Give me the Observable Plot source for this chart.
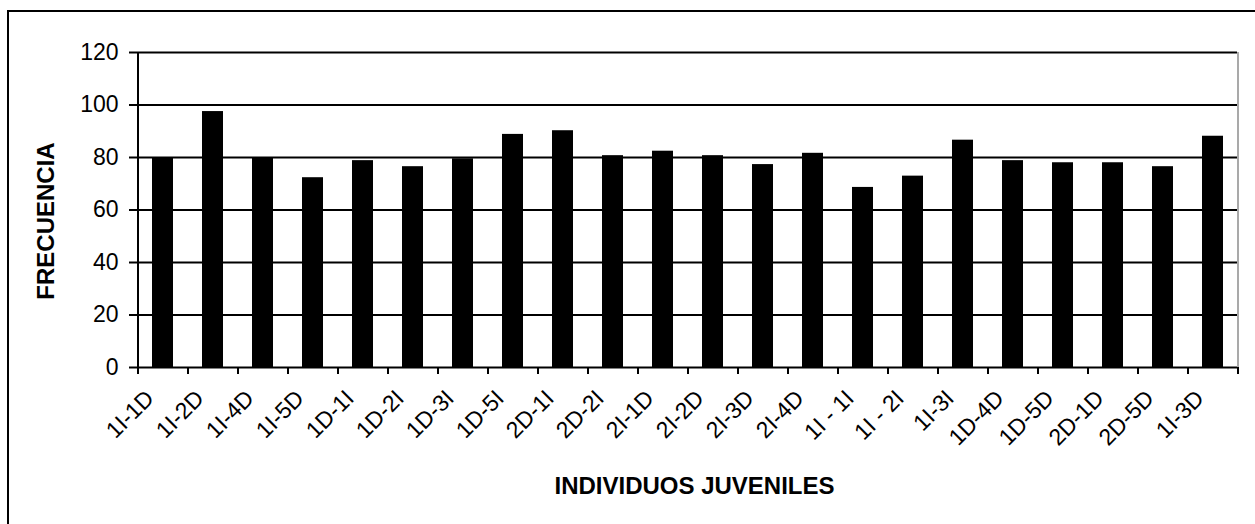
<!DOCTYPE html>
<html>
<head>
<meta charset="utf-8">
<script src="https://cdn.jsdelivr.net/npm/d3@7"></script>
<script src="https://cdn.jsdelivr.net/npm/@observablehq/plot@0.6"></script>
<style>
  html, body { margin: 0; padding: 0; background: #fff; overflow: hidden; }
  #wrap { position: relative; width: 1255px; height: 524px; }
  #border { position: absolute; left: 7px; top: 10px; width: 1260px; height: 530px;
            border-left: 2px solid #000; border-top: 2px solid #000; pointer-events: none; }
  #chart { position: absolute; left: 0; top: 0; }
</style>
</head>
<body>
<div id="wrap"><div id="chart"></div><div id="border"></div></div>
<script>
// Frecuencia por individuo juvenil
const individuos = [
  "1I-1D", "1I-2D", "1I-4D", "1I-5D", "1D-1I", "1D-2I", "1D-3I", "1D-5I",
  "2D-1I", "2D-2I", "2I-1D", "2I-2D", "2I-3D", "2I-4D", "1I - 1I", "1I - 2I",
  "1I-3I", "1D-4D", "1D-5D", "2D-1D", "2D-5D", "1I-3D"
];
const frecuencias = [
  80, 97.5, 80, 72.3, 78.8, 76.5, 79.5, 88.8,
  90.2, 80.7, 82.4, 80.7, 77.3, 81.6, 68.6, 72.9,
  86.6, 78.8, 78, 78, 76.5, 88.1
];
const yTicks = [0, 20, 40, 60, 80, 100, 120];

const data = individuos.map((d, i) => ({individuo: d, frecuencia: frecuencias[i]}));
const first = individuos[0];
const last = individuos[individuos.length - 1];
const half = 25; // half of one band step, to reach the category boundaries

const chart = Plot.plot({
  width: 1255,
  height: 524,
  marginLeft: 137,
  marginRight: 18,
  marginTop: 52,
  marginBottom: 157,
  style: {fontFamily: "'Liberation Sans', Arial, sans-serif", fontSize: "23px", color: "#000", background: "transparent"},
  x: {domain: individuos, paddingInner: 0.58, paddingOuter: 0.29, label: null},
  y: {domain: [0, 120], ticks: yTicks, label: null},
  marks: [
    Plot.gridY(yTicks.filter(d => d > 0), {stroke: "#000", strokeOpacity: 1, strokeWidth: 1.8}),
    Plot.barY(data, {x: "individuo", y: "frecuencia", fill: "#000"}),
    // plot-area edges
    Plot.ruleX([last], {dx: half, y1: 0, y2: 120, stroke: "#8c8c8c", strokeWidth: 1.5}),
    Plot.ruleX([first], {dx: -half, y1: 0, y2: 120, stroke: "#000", strokeWidth: 2}),
    Plot.ruleY([0], {stroke: "#000", strokeWidth: 2}),
    // y axis
    Plot.axisY(yTicks, {tickSize: 8, tickPadding: 11, strokeWidth: 2, fontSize: 23}),
    // x ticks at category boundaries
    Plot.axisX({tickSize: 7, tickFormat: () => "", dx: -half, strokeWidth: 2}),
    Plot.axisX([last], {tickSize: 7, tickFormat: () => "", dx: half, strokeWidth: 2}),
    // x tick labels
    Plot.axisX({tickSize: 0, tickRotate: -45, fontSize: 23, tickPadding: 0, dx: -13, dy: 27}),
    // axis titles
    Plot.text(["FRECUENCIA"], {frameAnchor: "left", textAnchor: "middle", rotate: -90, dx: -91, dy: 11,
      fontSize: 24, fontWeight: "bold", fill: "#000"}),
    Plot.text(["INDIVIDUOS JUVENILES"], {frameAnchor: "bottom", dy: 126, dx: 7,
      fontSize: 24, fontWeight: "bold", fill: "#000"})
  ]
});
document.getElementById("chart").appendChild(chart);
</script>
</body>
</html>
